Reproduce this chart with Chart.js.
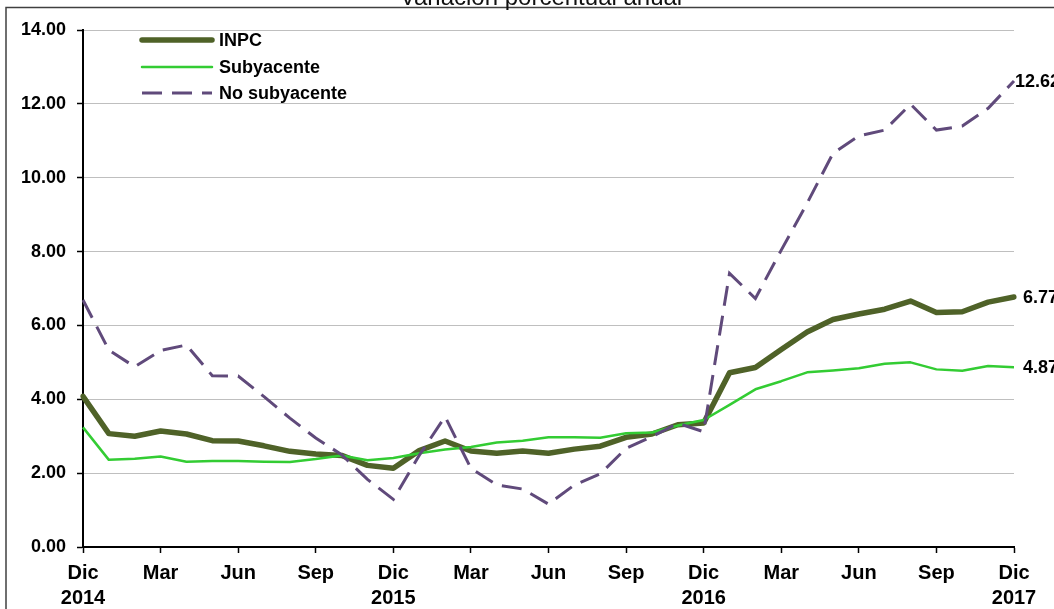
<!DOCTYPE html>
<html>
<head>
<meta charset="utf-8">
<script src="https://cdn.jsdelivr.net/npm/chart.js@4/dist/chart.umd.min.js"></script>
<style>
  html, body { margin: 0; padding: 0; background: #fff; }
  #chart { display: block; }
</style>
</head>
<body>
<canvas id="chart" width="1054" height="609"></canvas>
<script>
// datos: variacion porcentual anual, dic 2014 - dic 2017
var meses = ['Dic 2014',
  'Ene 2015','Feb 2015','Mar 2015','Abr 2015','May 2015','Jun 2015','Jul 2015','Ago 2015','Sep 2015','Oct 2015','Nov 2015','Dic 2015',
  'Ene 2016','Feb 2016','Mar 2016','Abr 2016','May 2016','Jun 2016','Jul 2016','Ago 2016','Sep 2016','Oct 2016','Nov 2016','Dic 2016',
  'Ene 2017','Feb 2017','Mar 2017','Abr 2017','May 2017','Jun 2017','Jul 2017','Ago 2017','Sep 2017','Oct 2017','Nov 2017','Dic 2017'];

var etiquetasX = [['Dic','2014'],'Mar','Jun','Sep',['Dic','2015'],'Mar','Jun','Sep',['Dic','2016'],'Mar','Jun','Sep',['Dic','2017']];

var inpc = [4.08,
  3.07,3.00,3.14,3.06,2.88,2.87,2.74,2.59,2.52,2.48,2.21,2.13,
  2.61,2.87,2.60,2.54,2.60,2.54,2.65,2.73,2.97,3.06,3.31,3.36,
  4.72,4.86,5.35,5.82,6.16,6.31,6.44,6.66,6.35,6.37,6.63,6.77];

var subyacente = [3.24,
  2.36,2.39,2.45,2.31,2.33,2.33,2.31,2.30,2.38,2.48,2.35,2.41,
  2.54,2.64,2.71,2.83,2.88,2.97,2.97,2.96,3.08,3.10,3.29,3.44,
  3.85,4.27,4.49,4.73,4.78,4.84,4.96,5.00,4.81,4.77,4.90,4.87];

var noSubyacente = [6.69,
  5.33,4.88,5.32,5.47,4.64,4.63,4.07,3.49,2.95,2.50,1.83,1.29,
  2.48,3.53,2.13,1.68,1.57,1.16,1.68,1.98,2.67,2.99,3.35,3.12,
  7.41,6.73,8.04,9.31,10.66,11.13,11.29,11.99,11.29,11.40,11.88,12.62];

var titulo = 'Variación porcentual anual';

Chart.defaults.font.family = "Arial, 'Liberation Sans', sans-serif";
Chart.defaults.color = '#000';

// marco, titulo, leyenda y etiquetas finales
var decoracion = {
  id: 'decoracion',
  beforeDraw: function(chart) {
    var ctx = chart.ctx;
    ctx.save();
    ctx.fillStyle = '#fff';
    ctx.fillRect(0, 0, chart.width, chart.height);
    ctx.strokeStyle = '#404040';
    ctx.lineWidth = 1.5;
    ctx.strokeRect(6, 7.5, chart.width + 20, chart.height + 20);
    ctx.restore();
  },
  afterDatasetsDraw: function(chart) {
    var ctx = chart.ctx;
    var desplaz = [9, 9, 1];
    ctx.save();
    ctx.font = 'bold 18px Arial, "Liberation Sans", sans-serif';
    ctx.fillStyle = '#000';
    ctx.textAlign = 'left';
    ctx.textBaseline = 'middle';
    chart.data.datasets.forEach(function(ds, i) {
      var meta = chart.getDatasetMeta(i);
      var p = meta.data[meta.data.length - 1];
      var v = ds.data[ds.data.length - 1];
      ctx.fillText(v.toFixed(2), p.x + desplaz[i], p.y + 1);
    });
    ctx.restore();
  },
  afterDraw: function(chart) {
    var ctx = chart.ctx;
    ctx.save();
    ctx.font = '24px Arial, "Liberation Sans", sans-serif';
    ctx.fillStyle = '#111';
    ctx.textAlign = 'center';
    ctx.textBaseline = 'alphabetic';
    ctx.fillText(titulo, 541, 5);

    var filas = [40, 67, 93];
    chart.data.datasets.forEach(function(ds, i) {
      var y = filas[i];
      ctx.beginPath();
      ctx.strokeStyle = ds.borderColor;
      ctx.lineWidth = ds.borderWidth;
      ctx.lineCap = ds.borderDash ? 'butt' : 'round';
      ctx.setLineDash(ds.borderDash || []);
      ctx.moveTo(142, y);
      ctx.lineTo(212, y);
      ctx.stroke();
      ctx.setLineDash([]);
      ctx.font = 'bold 18px Arial, "Liberation Sans", sans-serif';
      ctx.fillStyle = '#000';
      ctx.textAlign = 'left';
      ctx.textBaseline = 'middle';
      ctx.fillText(ds.label, 219, y + 1);
    });
    ctx.restore();
  }
};

new Chart(document.getElementById('chart'), {
  type: 'line',
  data: {
    labels: meses,
    datasets: [{
      label: 'INPC',
      data: inpc,
      borderColor: '#4F6228',
      borderWidth: 5.5,
      borderCapStyle: 'round',
      borderJoinStyle: 'round',
      pointRadius: 0,
      tension: 0,
      order: 2
    }, {
      label: 'Subyacente',
      data: subyacente,
      borderColor: '#33CC33',
      borderWidth: 2.5,
      borderJoinStyle: 'round',
      pointRadius: 0,
      tension: 0,
      order: 1
    }, {
      label: 'No subyacente',
      data: noSubyacente,
      borderColor: '#604A7B',
      borderWidth: 3,
      borderDash: [20, 10],
      pointRadius: 0,
      tension: 0,
      order: 0
    }]
  },
  options: {
    responsive: false,
    devicePixelRatio: 1,
    animation: false,
    layout: { padding: { left: 0, right: 40, top: 30, bottom: 0 } },
    plugins: {
      legend: { display: false },
      title: { display: false },
      tooltip: { enabled: false }
    },
    scales: {
      x: {
        afterFit: function(s) { s.height = 62; },
        grid: { drawOnChartArea: false, drawTicks: true, tickLength: 6, tickColor: '#000', tickWidth: 1.5 },
        border: { color: '#000', width: 2 },
        ticks: {
          autoSkip: false,
          maxRotation: 0,
          minRotation: 0,
          padding: 8,
          color: '#000',
          font: { size: 20, weight: 'bold', lineHeight: 1.25 },
          callback: function(v, i) { return i % 3 === 0 ? etiquetasX[i / 3] : null; }
        }
      },
      y: {
        min: 0,
        max: 14,
        afterFit: function(s) { s.width = 83; },
        grid: { color: '#BFBFBF', lineWidth: 1, tickColor: '#000', tickLength: 6, tickWidth: 1.5 },
        border: { color: '#000', width: 2 },
        ticks: {
          stepSize: 2,
          padding: 11,
          color: '#000',
          font: { size: 18, weight: 'bold' },
          callback: function(v) { return v.toFixed(2); }
        }
      }
    }
  },
  plugins: [decoracion]
});
</script>
</body>
</html>
